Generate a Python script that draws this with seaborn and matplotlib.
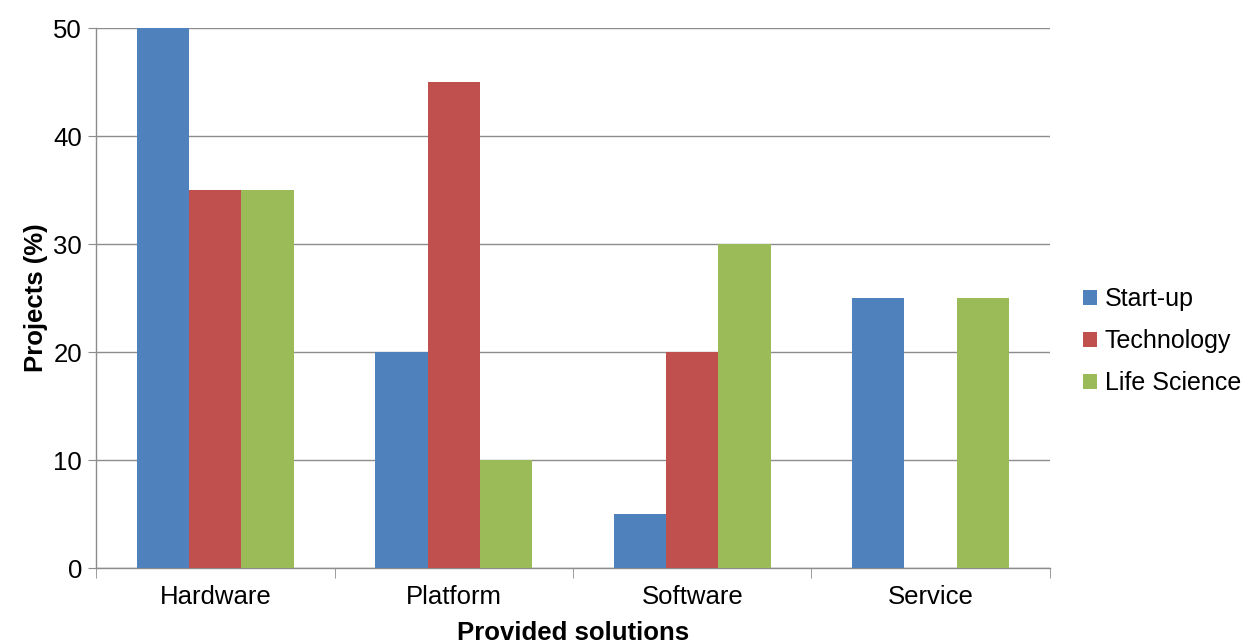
import pandas as pd
import matplotlib.pyplot as plt
import seaborn as sns
from matplotlib.ticker import FixedLocator

# values
solutions = ['Hardware', 'Platform', 'Software', 'Service']
startup = [50, 20, 5, 25]
technology = [35, 45, 20, 0]
life_science = [35, 10, 30, 25]
groups = ['Start-up', 'Technology', 'Life Science']
colors = ['#4F81BD', '#C0504D', '#9BBB59']

df = pd.DataFrame({
    'Solution': solutions * 3,
    'Group': [g for g in groups for _ in solutions],
    'Projects': startup + technology + life_science,
})

sns.set_style('white')
plt.rcParams['font.family'] = ['Liberation Sans', 'DejaVu Sans']

fig = plt.figure(figsize=(12.47, 6.44), dpi=100)
ax = fig.add_axes([0.077, 0.118, 0.765, 0.8385])

sns.barplot(data=df, x='Solution', y='Projects', hue='Group', palette=colors,
            width=0.66, gap=0, saturation=1, linewidth=0, ax=ax, zorder=3)

ax.set_ylim(0, 50)
ax.set_xlim(-0.5, 3.5)
ax.set_yticks(range(0, 51, 10))
ax.yaxis.grid(True, color='#8c8c8c', linewidth=1, zorder=0)
ax.set_axisbelow(True)

for s in ['top', 'right']:
    ax.spines[s].set_visible(False)
for s in ['left', 'bottom']:
    ax.spines[s].set_color('#8c8c8c')
    ax.spines[s].set_linewidth(1)

ax.tick_params(axis='y', length=6, color='#8c8c8c', labelsize=18.5, labelcolor='black', pad=4, left=True)
ax.tick_params(axis='x', which='major', length=0, labelsize=18.5, labelcolor='black', pad=12)
ax.xaxis.set_minor_locator(FixedLocator([-0.5, 0.5, 1.5, 2.5, 3.5]))
ax.tick_params(axis='x', which='minor', length=7, color='#8c8c8c', bottom=True)

ax.set_xlabel('Provided solutions', fontsize=18.5, fontweight='bold', color='black', labelpad=9)
ax.set_ylabel('Projects (%)', fontsize=18.5, fontweight='bold', color='black', labelpad=4)

ax.legend(loc='center left', bbox_to_anchor=(1.035, 0.42), frameon=False,
          borderaxespad=0, borderpad=0, labelcolor='black',
          fontsize=18, handlelength=0.55, handleheight=0.55, handletextpad=0.3,
          labelspacing=0.72)

plt.savefig('out.png', dpi=100)
